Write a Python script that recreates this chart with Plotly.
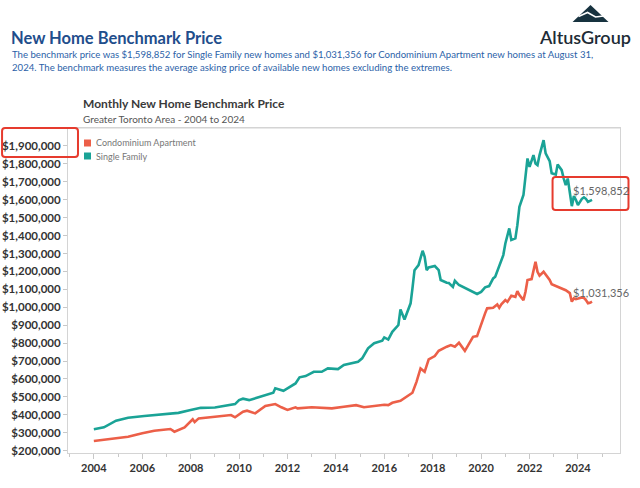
import plotly.graph_objects as go

# ---------------- data ----------------
sf_dates = ["2004-01","2004-06","2004-12","2005-06","2006-02","2006-11","2007-07","2008-01","2008-06",
            "2009-01","2009-07","2009-11","2010-01","2010-03","2010-06","2011-02","2011-06","2011-07",
            "2011-11","2012-05","2012-07","2012-10","2013-02","2013-06","2013-09","2014-02","2014-05",
            "2014-12","2015-02","2015-05","2015-08","2015-12","2016-01","2016-03","2016-05","2016-08",
            "2016-09","2016-11","2017-02","2017-03","2017-04","2017-06","2017-08","2017-09","2017-10",
            "2017-11","2018-02","2018-04","2018-05","2018-08","2018-09","2018-11","2018-12","2019-02",
            "2019-06","2019-11","2020-01","2020-03","2020-05","2020-07","2020-08","2020-10","2020-12",
            "2021-01","2021-03","2021-04","2021-06","2021-07","2021-08","2021-10","2021-11","2021-12",
            "2022-01","2022-03","2022-04","2022-05","2022-06","2022-08","2022-09","2022-10","2022-11",
            "2022-12","2023-02","2023-03","2023-05","2023-06","2023-07","2023-08","2023-10","2023-11",
            "2023-12","2024-01","2024-02","2024-03","2024-04","2024-05","2024-06","2024-07","2024-08"]
sf_values = [319000,330000,367000,384000,393000,404000,411000,427000,439000,
             441000,454000,460000,482000,490000,482000,510000,523000,548000,
             534000,575000,609000,616000,640000,640000,659000,655000,678000,
             696000,715000,771000,799000,813000,832000,820000,863000,901000,
             988000,932000,1022000,1105000,1207000,1235000,1315000,1282000,1207000,
             1222000,1230000,1207000,1152000,1137000,1135000,1114000,1148000,1124000,
             1100000,1074000,1086000,1111000,1118000,1161000,1170000,1235000,1291000,
             1356000,1440000,1375000,1384000,1458000,1560000,1626000,1728000,1830000,
             1783000,1849000,1802000,1793000,1849000,1932000,1858000,1839000,1815000,
             1747000,1740000,1797000,1765000,1718000,1681000,1718000,1564000,1620000,
             1600000,1570000,1588000,1605000,1613000,1605000,1588000,1592000,1598852]

condo_dates = ["2004-01","2004-09","2005-06","2006-01","2006-07","2007-03","2007-05","2007-10","2008-02",
               "2008-03","2008-05","2009-01","2009-09","2009-11","2010-03","2010-05","2010-09","2011-02",
               "2011-07","2011-10","2012-01","2012-05","2012-06","2013-01","2013-11","2014-05","2014-11",
               "2015-03","2015-08","2016-01","2016-03","2016-05","2016-09","2016-12","2017-03","2017-05",
               "2017-07","2017-09","2017-11","2018-02","2018-04","2018-08","2018-10","2018-12","2019-02",
               "2019-05","2019-07","2019-09","2019-11","2020-01","2020-03","2020-04","2020-07","2020-09",
               "2020-10","2020-11","2021-01","2021-02","2021-04","2021-06","2021-07","2021-08","2021-10",
               "2021-11","2021-12","2022-02","2022-03","2022-04","2022-05","2022-06","2022-08","2022-09",
               "2022-11","2022-12","2023-03","2023-06","2023-07","2023-09","2023-10","2023-11","2023-12",
               "2024-03","2024-04","2024-05","2024-06","2024-07","2024-08"]
condo_values = [254000,265000,278000,297000,311000,321000,306000,330000,375000,
                360000,380000,389000,399000,386000,417000,423000,408000,449000,
                460000,442000,427000,442000,436000,442000,436000,445000,454000,
                442000,449000,456000,454000,467000,478000,501000,523000,584000,
                659000,640000,709000,728000,757000,780000,789000,780000,802000,
                757000,799000,835000,839000,910000,966000,994000,997000,1016000,
                997000,1016000,1040000,1030000,1064000,1058000,1090000,1068000,1040000,
                1086000,1152000,1157000,1198000,1254000,1198000,1176000,1198000,1183000,
                1152000,1128000,1114000,1101000,1095000,1079000,1031000,1050000,1045000,
                1055000,1052000,1040000,1022000,1025000,1031356]

series_names = ["Condominium Apartment", "Single Family"]
series_colors = ["#ec5f48", "#1aa396"]

y_tick_vals = [200000,300000,400000,500000,600000,700000,800000,900000,1000000,
               1100000,1200000,1300000,1400000,1500000,1600000,1700000,1800000,1900000]
y_tick_text = ["$200,000","$300,000","$400,000","$500,000","$600,000","$700,000","$800,000",
               "$900,000","$1,000,000","$1,100,000","$1,200,000","$1,300,000","$1,400,000",
               "$1,500,000","$1,600,000","$1,700,000","$1,800,000","$1,900,000"]

# ---------------- layout helpers (pixel -> paper) ----------------
W, H = 640, 488
L, R, T, B = 68, 620.5, 128, 453
def px(x): return (x - L) / (R - L)
def py(y): return (B - y) / (B - T)

FONT = "Lato, 'Open Sans', sans-serif"

fig = go.Figure()

series = [(condo_dates, condo_values), (sf_dates, sf_values)]
for (d, v), name, col in zip(series, series_names, series_colors):
    d_full = [s + "-01" for s in d]
    fig.add_trace(go.Scatter(x=d_full, y=v, mode="lines", name=name,
                             line=dict(color=col, width=2.6), showlegend=False,
                             hovertemplate="%{x|%b %Y}<br>$%{y:,.0f}<extra>" + name + "</extra>"))
    # end label
    fig.add_annotation(x=d_full[-1], y=v[-1], xref="x", yref="y", text=f"${v[-1]:,.0f}",
                       showarrow=False, xanchor="center", yanchor="middle", xshift=9, yshift=9,
                       font=dict(family=FONT, size=11, color="#666666"))

fig.update_layout(
    width=W, height=H,
    margin=dict(l=L, r=W - R, t=T, b=H - B, autoexpand=False),
    paper_bgcolor="white", plot_bgcolor="white",
    font=dict(family=FONT, color="#333333"),
    showlegend=False,
)

fig.update_xaxes(
    type="date", range=["2002-12-07", "2025-09-27"],
    tick0="2004-01-01", dtick="M24", tickformat="%Y",
    ticks="outside", ticklen=5, tickcolor="#c8c8c8",
    minor=dict(dtick="M12", ticks="outside", ticklen=3, tickcolor="#c8c8c8", showgrid=False),
    showgrid=False, zeroline=False, automargin=False,
    showline=True, mirror=True, linecolor="#d4d4d4", linewidth=1,
    tickfont=dict(family=FONT, size=11, color="#333333", weight="bold"),
)
fig.update_yaxes(
    range=[187000, 2000000],
    tickvals=y_tick_vals, ticktext=y_tick_text,
    ticks="outside", ticklen=4, tickcolor="#c8c8c8",
    showgrid=False, zeroline=False, automargin=False,
    showline=True, mirror=True, linecolor="#d4d4d4", linewidth=1,
    tickfont=dict(family=FONT, size=11.5, color="#333333", weight="bold"),
)

# ---------------- header text ----------------
ann = [
    dict(text="New Home Benchmark Price", x=px(9), y=py(38), size=16.5, color="#1f4e8c", weight="bold"),
    dict(text="The benchmark price was $1,598,852 for Single Family new homes and $1,031,356 for "
              "Condominium Apartment new homes at August 31,", x=px(10), y=py(54), size=9.6,
         color="#2b62a8", weight="normal"),
    dict(text="2024. The benchmark measures the average asking price of available new homes "
              "excluding the extremes.", x=px(10), y=py(67), size=9.6, color="#2b62a8", weight="normal"),
    dict(text="Monthly New Home Benchmark Price", x=px(81), y=py(103), size=12, color="#3a3a3a",
         weight="bold"),
    dict(text="Greater Toronto Area - 2004 to 2024", x=px(81), y=py(119), size=10, color="#555555",
         weight="normal"),
]
for a in ann:
    fig.add_annotation(text=a["text"], x=a["x"], y=a["y"], xref="paper", yref="paper",
                       xanchor="left", yanchor="middle", showarrow=False,
                       font=dict(family=FONT, size=a["size"], color=a["color"], weight=a["weight"]))

# manual legend (square swatches + labels)
legend_rows = [143, 156]
for name, col, yy in zip(series_names, series_colors, legend_rows):
    fig.add_shape(type="rect", x0=px(84), x1=px(91), y0=py(yy - 3.5), y1=py(yy + 3.5),
                  xref="paper", yref="paper", fillcolor=col, line=dict(width=0))
    fig.add_annotation(text=name, x=px(94), y=py(yy), xref="paper", yref="paper",
                       xanchor="left", yanchor="middle", showarrow=False,
                       font=dict(family=FONT, size=9, color="#777777"))

# logo
fig.add_annotation(text="AltusGroup", x=px(585), y=py(37), xref="paper", yref="paper",
                   xanchor="center", yanchor="middle", showarrow=False,
                   font=dict(family=FONT, size=18, color="#1d2b36", weight=600))

def path(points, close=True):
    s = "M " + " L ".join(f"{px(x)},{py(y)}" for x, y in points)
    return s + (" Z" if close else "")

fig.add_shape(type="line", x0=px(6), x1=px(R), y0=py(T), y1=py(T), xref="paper", yref="paper",
              line=dict(color="#d4d4d4", width=1))
fig.add_shape(type="path", path=path([(573, 22), (591, 5), (609, 22)]), xref="paper", yref="paper",
              fillcolor="#17323f", line=dict(width=0))
fig.add_shape(type="path", path=path([(579, 16.5), (588, 12.5), (596, 17), (604, 16)], close=False),
              xref="paper", yref="paper", line=dict(color="white", width=1.6))

# highlight boxes (rounded)
def rbox(x0, y0, x1, y1, r=3):
    pts = (f"M {px(x0 + r)},{py(y0)} L {px(x1 - r)},{py(y0)} Q {px(x1)},{py(y0)} {px(x1)},{py(y0 + r)} "
           f"L {px(x1)},{py(y1 - r)} Q {px(x1)},{py(y1)} {px(x1 - r)},{py(y1)} "
           f"L {px(x0 + r)},{py(y1)} Q {px(x0)},{py(y1)} {px(x0)},{py(y1 - r)} "
           f"L {px(x0)},{py(y0 + r)} Q {px(x0)},{py(y0)} {px(x0 + r)},{py(y0)} Z")
    return dict(type="path", path=pts, xref="paper", yref="paper",
                line=dict(color="#e63b2e", width=2), fillcolor="rgba(0,0,0,0)")
fig.add_shape(**rbox(2, 128, 78, 157))
fig.add_shape(**rbox(553, 177, 629, 210))

fig.write_html("out.html", config={"displayModeBar": False},
               post_script="document.body.style.margin='0';document.body.style.overflow='hidden';")
